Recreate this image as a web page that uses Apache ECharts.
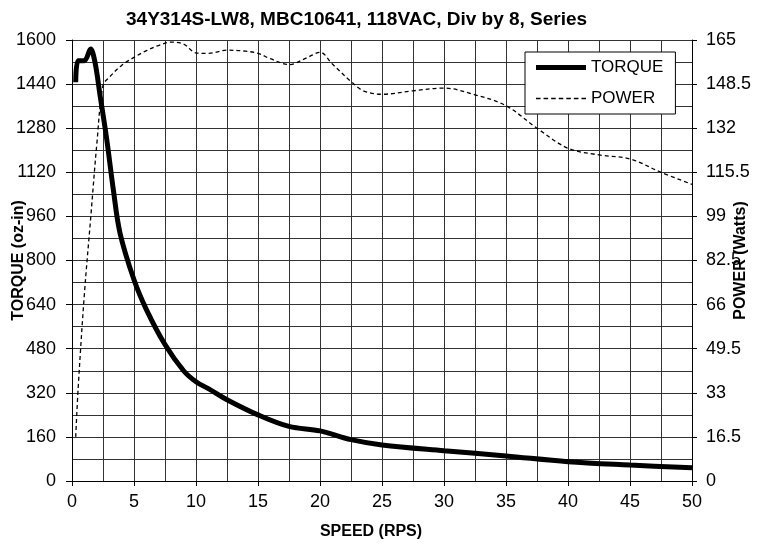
<!DOCTYPE html>
<html>
<head>
<meta charset="utf-8">
<script src="https://cdn.jsdelivr.net/npm/echarts@6/dist/echarts.min.js"></script>
<style>html,body{margin:0;padding:0;background:#fff;}#c{width:768px;height:544px;}</style>
</head>
<body>
<div id="c"></div>
<script>
var titleText = '34Y314S-LW8, MBC10641, 118VAC, Div by 8, Series';
var torqueSpeed = [0.3, 0.5, 1.0, 1.5, 1.85, 2.26, 2.8, 3.33, 3.87, 5, 6, 7.5, 9, 10, 11, 12.5, 15, 17.5, 20, 22.5, 25, 30, 35, 40, 45, 50];
var torqueVals  = [1447, 1525, 1525, 1567, 1520, 1400, 1240, 1058, 900, 730, 622, 495, 400, 360, 335, 295, 240, 198, 182, 150, 131, 110, 91, 70, 58, 48];
var powerSpeed = [0.3, 0.5, 1.0, 1.5, 2.0, 2.5, 3, 4, 5, 6, 7, 8, 9, 10, 11, 12.5, 14, 15, 16, 17.5, 19, 20, 21, 22.5, 23.5, 25, 27.5, 30, 32.5, 35, 37.5, 40, 42.5, 45, 47.5, 50];
var powerVals  = [16.5, 35, 70, 98, 126, 148, 151, 155.5, 158.5, 161, 163, 164.2, 163.5, 160.2, 160, 161.2, 160.8, 160, 158, 155.8, 158.5, 160.4, 156, 149.5, 146, 144.7, 146, 147, 144.5, 140.4, 132, 124.5, 122, 120.5, 115.5, 111];
var xTicks = {min: 0, max: 50, interval: 5};
var yLeft = {min: 0, max: 1600, interval: 160};
var yRight = {min: 0, max: 165, interval: 16.5};

function pairs(xs, ys){ return xs.map(function(x,i){ return [x, ys[i]]; }); }
function plain(v){ return String(v); }

var dashIcon = 'path://';
for (var i = 0; i < 7; i++) { var a = i * 7.5; dashIcon += 'M' + a + ',0L' + (a + 4.5) + ',0L' + (a + 4.5) + ',1.3L' + a + ',1.3Z'; }

var chart = echarts.init(document.getElementById('c'), null, {renderer:'canvas'});
var font = 'Liberation Sans, Arial, sans-serif';
var gridColor = '#333';
chart.setOption({
  animation: false,
  textStyle: {fontFamily: font},
  title: {text: titleText, left: 121, top: 5, textStyle: {fontSize: 19, fontWeight: 'bold', color: '#000', fontFamily: font}},
  grid: {left: 72, right: 76, top: 40, bottom: 63, containLabel: false, outerBoundsMode: 'none'},
  legend: {
    left: 525, top: 52, orient: 'vertical',
    backgroundColor: '#fff', borderColor: '#000', borderWidth: 1,
    padding: [7, 12, 7, 11], itemGap: 14, itemWidth: 50, itemHeight: 18,
    textStyle: {fontSize: 17, color: '#000', fontFamily: font},
    data: [
      {name: 'TORQUE', icon: 'path://M0,0L50,0L50,5L0,5Z', itemStyle: {color: '#000'}},
      {name: 'POWER', icon: dashIcon, itemStyle: {color: '#000'}}
    ]
  },
  xAxis: {
    type: 'value', min: xTicks.min, max: xTicks.max, interval: xTicks.interval,
    name: 'SPEED (RPS)', nameLocation: 'middle', nameGap: 43, nameMoveOverlap: false,
    nameTextStyle: {fontSize: 16, fontWeight: 'bold', color: '#000', fontFamily: font, padding: [0, 22, 0, 0]},
    axisLine: {show: true, lineStyle: {color: '#000'}},
    axisTick: {show: true, length: 5, lineStyle: {color: '#000'}},
    axisLabel: {fontSize: 18, color: '#000', margin: 12, fontFamily: font, formatter: plain},
    splitLine: {show: true, lineStyle: {color: gridColor, width: 1}},
    minorTick: {show: false, splitNumber: 2},
    minorSplitLine: {show: true, lineStyle: {color: gridColor, width: 1}}
  },
  yAxis: [
    {
      type: 'value', min: yLeft.min, max: yLeft.max, interval: yLeft.interval,
      name: 'TORQUE (oz-in)', nameLocation: 'middle', nameGap: 45, nameRotate: 90, nameMoveOverlap: false,
      nameTextStyle: {fontSize: 16, fontWeight: 'bold', color: '#000', fontFamily: font},
      axisLine: {show: true, lineStyle: {color: '#000'}},
      axisTick: {show: true, length: 6, lineStyle: {color: '#000'}},
      axisLabel: {fontSize: 18, color: '#000', margin: 16, fontFamily: font, formatter: plain},
      splitLine: {show: true, lineStyle: {color: gridColor, width: 1}},
      minorTick: {show: false, splitNumber: 2},
      minorSplitLine: {show: true, lineStyle: {color: gridColor, width: 1}}
    },
    {
      type: 'value', min: yRight.min, max: yRight.max, interval: yRight.interval, position: 'right',
      name: 'POWER (Watts)', nameLocation: 'middle', nameGap: 41, nameRotate: 90, nameMoveOverlap: false,
      nameTextStyle: {fontSize: 16, fontWeight: 'bold', color: '#000', fontFamily: font},
      axisLine: {show: true, lineStyle: {color: '#000'}},
      axisTick: {show: true, length: 5, lineStyle: {color: '#000'}},
      axisLabel: {fontSize: 18, color: '#000', margin: 14, fontFamily: font, formatter: plain},
      splitLine: {show: false}
    }
  ],
  series: [
    {
      name: 'TORQUE', type: 'line', yAxisIndex: 0, data: pairs(torqueSpeed, torqueVals),
      showSymbol: false, symbol: 'none', smooth: 0.35,
      lineStyle: {color: '#000', width: 5}, itemStyle: {color: '#000'}, z: 3
    },
    {
      name: 'POWER', type: 'line', yAxisIndex: 1, data: pairs(powerSpeed, powerVals),
      showSymbol: false, symbol: 'none', smooth: 0.35,
      lineStyle: {color: '#000', width: 1.3, type: [4, 3]}, itemStyle: {color: '#000'}, z: 2
    }
  ]
});
</script>
</body>
</html>
